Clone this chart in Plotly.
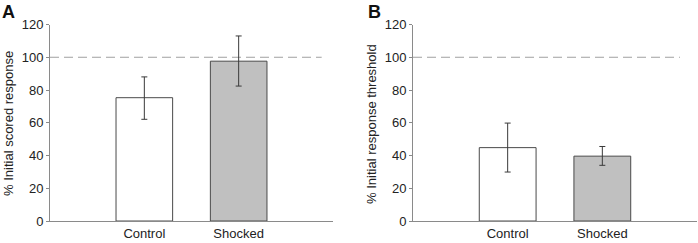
import plotly.graph_objects as go

categories = ["Control", "Shocked"]

# Panel A: % Initial scored response
a_values = [75.3, 97.6]
a_err_plus = [12.7, 15.4]
a_err_minus = [13.2, 15.2]

# Panel B: % Initial response threshold
b_values = [44.8, 39.6]
b_err_plus = [15.0, 5.9]
b_err_minus = [14.9, 5.6]

reference_level = 100
y_ticks = [0, 20, 40, 60, 80, 100, 120]

W, H = 698, 243
bar_colors = ["#ffffff", "#c0c0c0"]
font_family = "Liberation Sans, Arial, sans-serif"

fig = go.Figure()

for vals, ep, em, xa, ya in [
    (a_values, a_err_plus, a_err_minus, "x", "y"),
    (b_values, b_err_plus, b_err_minus, "x2", "y2"),
]:
    fig.add_trace(go.Bar(
        x=categories, y=vals, xaxis=xa, yaxis=ya, width=0.6,
        marker=dict(color=bar_colors, line=dict(color="#4a4a4a", width=1)),
        error_y=dict(type="data", array=ep, arrayminus=em, symmetric=False,
                     color="#3a3a3a", thickness=1, width=3),
        showlegend=False, hoverinfo="skip",
    ))

y_dom = [(H - 221) / H, (H - 24.5) / H]
axis_common = dict(showgrid=False, zeroline=False, showline=True,
                   linecolor="#8a8a8a", linewidth=1, automargin=False)

fig.update_layout(
    width=W, height=H,
    margin=dict(l=0, r=0, t=0, b=0),
    paper_bgcolor="white", plot_bgcolor="white",
    font=dict(family=font_family, size=13, color="#222222"),
    xaxis=dict(domain=[50 / W, 333 / W], type="category", range=[-1, 2],
               ticks="", anchor="y", tickfont=dict(size=13), **axis_common),
    yaxis=dict(domain=y_dom, range=[0, 120], tickvals=y_ticks, ticks="outside",
               ticklen=3, tickcolor="#8a8a8a", anchor="x",
               tickfont=dict(size=13), **axis_common),
    xaxis2=dict(domain=[413 / W, 697 / W], type="category", range=[-1, 2],
                ticks="", anchor="y2", tickfont=dict(size=13), **axis_common),
    yaxis2=dict(domain=y_dom, range=[0, 120], tickvals=y_ticks, ticks="outside",
                ticklen=3, tickcolor="#8a8a8a", anchor="x2",
                tickfont=dict(size=13), **axis_common),
    bargap=0.4,
)

for xref, yref, x_end in [("x", "y", 1.88), ("x2", "y2", 1.82)]:
    fig.add_shape(type="line", xref=xref, yref=yref, x0=-1, x1=x_end,
                  y0=reference_level, y1=reference_level,
                  line=dict(color="#a0a0a0", width=1, dash="9px,5px"),
                  layer="below")

annotations = [
    dict(text="% Initial scored response", x=8 / W, y=1 - 124 / H,
         textangle=-90, font=dict(size=13)),
    dict(text="% Initial response threshold", x=371 / W, y=1 - 124 / H,
         textangle=-90, font=dict(size=13)),
    dict(text="<b>A</b>", x=0 / W, y=1 - 12 / H, xanchor="left",
         font=dict(size=18, color="#111111")),
    dict(text="<b>B</b>", x=366 / W, y=1 - 12 / H, xanchor="left",
         font=dict(size=18, color="#111111")),
]
for a in annotations:
    a.setdefault("xanchor", "center")
    fig.add_annotation(xref="paper", yref="paper", yanchor="middle",
                       showarrow=False, **a)

fig.write_html(
    "out.html",
    config={"displayModeBar": False, "staticPlot": True},
    post_script="document.body.style.margin='0px';"
                "document.body.style.overflow='hidden';",
)
